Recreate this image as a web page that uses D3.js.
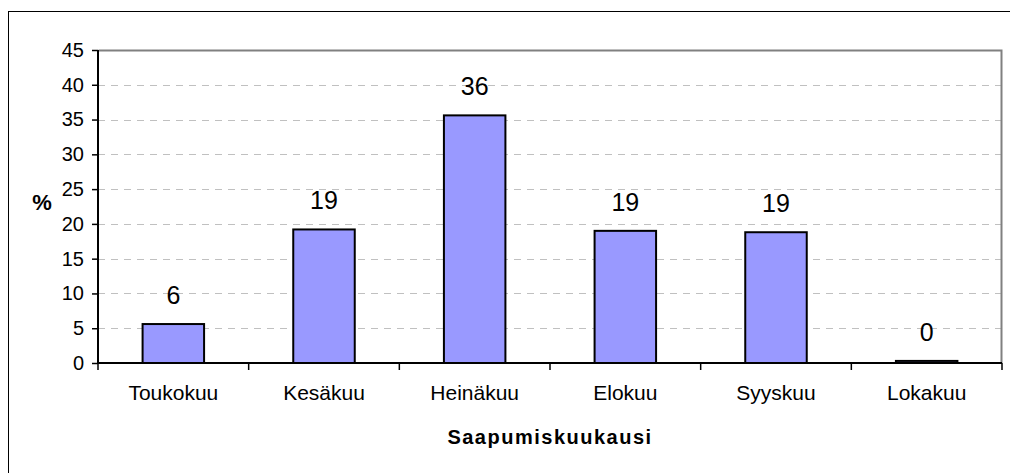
<!DOCTYPE html>
<html>
<head>
<meta charset="utf-8">
<script src="https://cdn.jsdelivr.net/npm/d3@7"></script>
<style>
  body { margin: 0; background: #fff; }
  svg { display: block; font-family: "Liberation Sans", Arial, sans-serif; }
</style>
</head>
<body>
<div id="chart"></div>
<script>
// chart data
var months = ["Toukokuu", "Kesäkuu", "Heinäkuu", "Elokuu", "Syyskuu", "Lokakuu"];
var percents = [5.6, 19.2, 35.6, 19.0, 18.8, 0.3];
var labels = ["6", "19", "36", "19", "19", "0"];
var yTicks = [0, 5, 10, 15, 20, 25, 30, 35, 40, 45];

var width = 1010, height = 473;
var margin = {top: 50, left: 98, right: 8, bottom: 110};

var svg = d3.select("#chart").append("svg")
    .attr("width", width)
    .attr("height", height);

// outer chart frame (runs off the right and bottom edges)
svg.append("rect")
    .attr("x", 8.5).attr("y", 11.5)
    .attr("width", 1010).attr("height", 480)
    .attr("fill", "none")
    .attr("stroke", "#000")
    .attr("stroke-width", 1);

var plotW = width - margin.left - margin.right,
    plotH = height - margin.top - margin.bottom;

var x = d3.scaleBand().domain(months).range([0, plotW]).paddingInner(0).paddingOuter(0);
var y = d3.scaleLinear().domain([0, 45]).range([plotH, 0]);

var g = svg.append("g").attr("transform", "translate(" + margin.left + "," + margin.top + ")");

// gridlines
g.append("g").selectAll("line")
    .data(yTicks.filter(function(d){ return d > 0 && d < 45; }))
    .enter().append("line")
    .attr("x1", 0).attr("x2", plotW)
    .attr("y1", function(d){ return Math.round(y(d)) + 0.5; })
    .attr("y2", function(d){ return Math.round(y(d)) + 0.5; })
    .attr("stroke", "#c0c0c0")
    .attr("stroke-dasharray", "7,6");

// plot area frame (top/right in gray)
g.append("path")
    .attr("d", "M0.5,0.5H" + (plotW - 0.5) + "V" + plotH)
    .attr("fill", "none")
    .attr("stroke", "#808080")
    .attr("stroke-width", 2);

var barW = x.bandwidth() / 2.45;

g.append("g").selectAll("rect")
    .data(percents)
    .enter().append("rect")
    .attr("x", function(d, i){ return x(months[i]) + (x.bandwidth() - barW) / 2; })
    .attr("y", function(d){ return y(d); })
    .attr("width", barW)
    .attr("height", function(d){ return plotH - y(d); })
    .attr("fill", "#9999ff")
    .attr("stroke", "#000")
    .attr("stroke-width", 2);

g.append("g").selectAll("text")
    .data(percents)
    .enter().append("text")
    .attr("x", function(d, i){ return x(months[i]) + x.bandwidth() / 2; })
    .attr("y", function(d){ return y(d) - 20; })
    .attr("text-anchor", "middle")
    .attr("font-size", 25)
    .attr("fill", "#000")
    .text(function(d, i){ return labels[i]; });

// y axis
var yAxis = g.append("g")
    .call(d3.axisLeft(y).tickValues(yTicks).tickSize(6).tickPadding(8));
yAxis.select(".domain").attr("stroke", "#000").attr("stroke-width", 2)
    .attr("d", "M0,0V" + plotH);
yAxis.selectAll(".tick line").attr("stroke", "#000").attr("stroke-width", 1.5);
yAxis.selectAll(".tick text").attr("font-size", 20).attr("font-family", "Liberation Sans, Arial, sans-serif").attr("fill", "#000");

// x axis
var xAxis = g.append("g")
    .attr("transform", "translate(0," + plotH + ")")
    .call(d3.axisBottom(x).tickSize(0).tickPadding(22));
xAxis.select(".domain").attr("stroke", "#000").attr("stroke-width", 2)
    .attr("d", "M0,0H" + plotW);
xAxis.selectAll(".tick text").attr("font-size", 21).attr("font-family", "Liberation Sans, Arial, sans-serif").attr("fill", "#000");

// category boundary ticks
g.append("g").selectAll("line")
    .data(d3.range(months.length + 1))
    .enter().append("line")
    .attr("x1", function(i){ return i * x.step(); })
    .attr("x2", function(i){ return i * x.step(); })
    .attr("y1", plotH).attr("y2", plotH + 7)
    .attr("stroke", "#000")
    .attr("stroke-width", 1.5);

// axis titles
svg.append("text")
    .attr("x", margin.left + plotW / 2)
    .attr("y", 444)
    .attr("text-anchor", "middle")
    .attr("font-size", 20)
    .attr("font-weight", "bold")
    .attr("letter-spacing", 1.5)
    .text("Saapumiskuukausi");

svg.append("text")
    .attr("x", 42)
    .attr("y", 210)
    .attr("text-anchor", "middle")
    .attr("font-size", 22)
    .attr("font-weight", "bold")
    .text("%");
</script>
</body>
</html>
